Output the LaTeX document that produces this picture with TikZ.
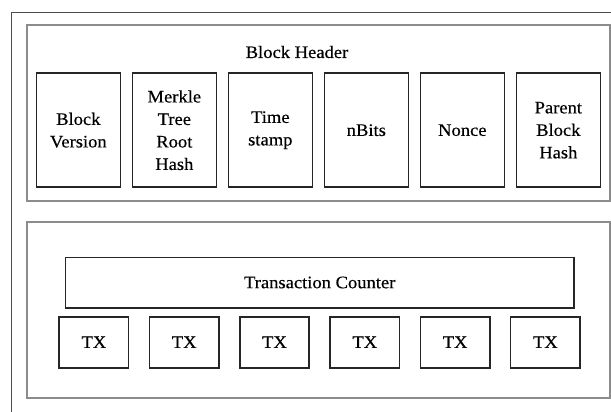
\documentclass[tikz,border=0pt]{standalone}
\usepackage{fontspec}
\setmainfont{Liberation Serif}[FakeStretch=1.06, FakeBold=0.4]

\begin{document}
\begin{tikzpicture}[x=1pt, y=-1pt, node distance=96pt,
  field/.style={draw=black!85, line width=1.6pt, minimum width=84pt, minimum height=114pt, align=center, inner sep=0pt},
  tx/.style={draw=black!85, line width=1.6pt, minimum width=69.5pt, minimum height=51pt, inner sep=0pt},
  panel/.style={draw=black!45, line width=2pt, minimum width=583pt, inner sep=0pt}]
\fontsize{17.5}{22.5}\selectfont
\useasboundingbox (0,0) rectangle (611,412);
\clip (0,0) rectangle (611,412);
\node  (block)[draw=black!70, line width=1.6pt, minimum width=613.5pt, minimum height=412.5pt] at (318.25,218.75) {};
% block header
\node  (header)[panel, minimum height=175.5pt] at (318,112.75) {};
\node  (title) at (297,52) {Block Header};
\node  (version)[field] at (78.35,130.2) {Block\\Version};
\node  (merkle)[field] [  right   of = version] {Merkle\\Tree\\Root\\Hash};
\node  (time)[field] [  right  of = merkle] {Time\\stamp};
\node  (nbits)[field] [  right  of = time] {nBits};
\node  (nonce)[field] [  right  of = nbits] {Nonce};
\node  (parent)[field] [  right  of = nonce] {Parent\\Block\\Hash};
% transactions
\node  (body)[panel, minimum height=176pt] at (318,310) {};
\node  (counter)[draw=black!85, line width=1.6pt, minimum width=508.5pt, minimum height=50.4pt] at (319.75,282.5) {Transaction Counter};
\begin{scope}[node distance=90.3pt]
\node  (tx1)[tx] at (93.9,342.2) {TX};
\node  (tx2)[tx] [  right  of = tx1] {TX};
\node  (tx3)[tx] [  right  of = tx2] {TX};
\node  (tx4)[tx] [  right  of = tx3] {TX};
\node  (tx5)[tx] [  right  of = tx4] {TX};
\node  (tx6)[tx] [  right  of = tx5] {TX};
\end{scope}
\end{tikzpicture}
\end{document}
